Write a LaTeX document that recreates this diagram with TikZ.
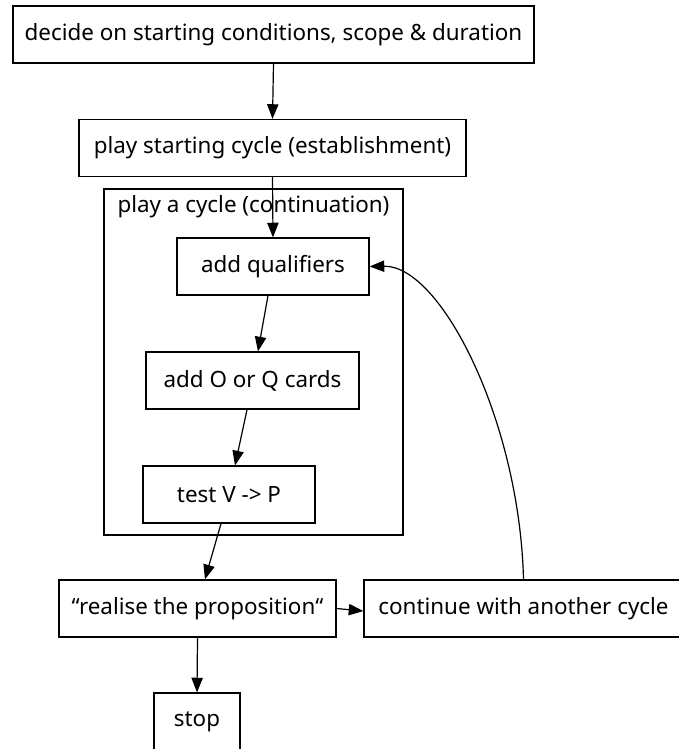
\documentclass[tikz,border=0pt]{standalone}
\usepackage{fontspec}
\setmainfont{Noto Sans}
\usetikzlibrary{arrows.meta}
\tikzset{
  box/.style={draw, line width=0.9pt, inner sep=0pt, minimum height=42.75pt, font=\fontsize{16.8pt}{20pt}\selectfont},
  cluster/.style={draw, line width=0.9pt, inner sep=0pt},
  link/.style={line width=0.9pt, -{Triangle[length=11pt,width=8.5pt]}}
}
\begin{document}
\begin{tikzpicture}[x=0.75pt,y=-0.75pt]
\useasboundingbox (0,0) rectangle (678,749);
\node[cluster, minimum width=224.25pt, minimum height=259.5pt] (loop) at (253.5,362) {};
\node[font=\fontsize{16.8pt}{20pt}\selectfont] (looplabel) at (253.5,207) {play a cycle (continuation)};
\node[box, minimum width=390.75pt] (start) at (273.5,34.5) {decide on starting conditions, scope \& duration};
\node[box, minimum width=290.25pt] (first) at (272.5,148) {play starting cycle (establishment)};
\node[box, minimum width=144pt] (qual) at (273,266.5) {add qualifiers};
\node[box, minimum width=159.75pt] (cards) at (252.5,380.5) {add O or Q cards};
\node[box, minimum width=129pt] (test) at (229,494.5) {test V -> P};
\node[box, minimum width=207.75pt] (real) at (197.5,608.5) {“realise the proposition“};
\node[box, minimum width=239.25pt] (cont) at (523.5,608.5) {continue with another cycle};
\node[box, minimum width=64.5pt] (stop) at (197,721.5) {stop};
\draw[link] (start.south) -- (first.north);
\draw[link] (first.south) -- (qual.north);
\draw[link] ([xshift=-3.75pt]qual.south) -- ([xshift=4.1pt]cards.north);
\draw[link] ([xshift=-4.1pt]cards.south) -- ([xshift=4.5pt]test.north);
\draw[link] ([xshift=-6pt]test.south) -- ([xshift=5.6pt]real.north);
\draw[link] (real.east) -- ([yshift=-1.9pt]cont.west);
\draw[link] (real.south) -- (stop.north);
\draw[link] (cont.north) .. controls +(-4,-159) and +(71,-1.5) .. (qual.east);
\end{tikzpicture}
\end{document}
